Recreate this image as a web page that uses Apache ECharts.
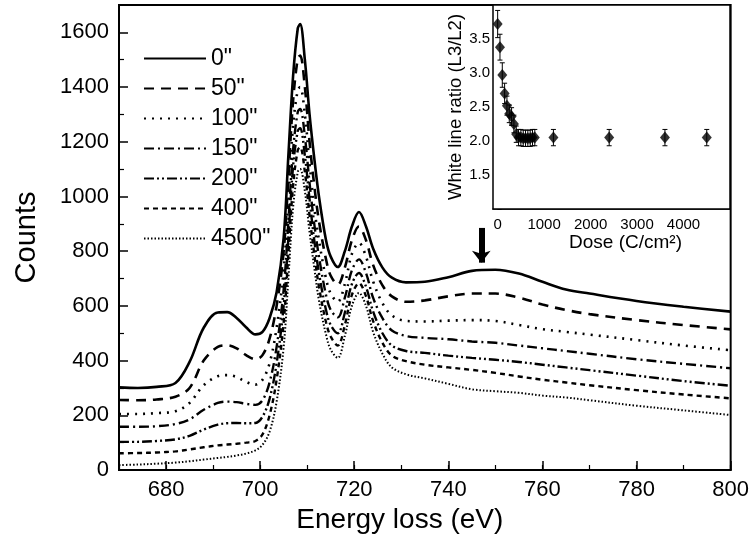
<!DOCTYPE html>
<html><head><meta charset="utf-8">
<script src="https://cdn.jsdelivr.net/npm/echarts@6/dist/echarts.min.js"></script>
<style>html,body{margin:0;padding:0;background:#fff}#c{width:752px;height:545px}</style>
</head><body><div id="c"></div>
<script>
// ---- main spectra data ----
const energy = [670,674,678,682,685,688,691,693,695,697,699,700.5,702,703.5,705,706,707,708,708.5,709.5,710.5,711.5,712.5,714,715,716.5,718,719.5,721,722.5,724,726,728,731,735,740,745,750,755,760,765,770,780,790,800];
const counts0    = [302,300,304,318,395,520,576,577,556,522,496,505,555,650,850,1150,1440,1615,1630,1500,1300,1140,1000,840,780,742,800,890,943,890,810,740,703,686,688,705,728,732,718,688,660,645,618,597,579];
const counts50   = [256,255,258,268,300,400,450,456,445,420,405,420,480,600,800,1070,1350,1505,1515,1400,1200,1040,910,770,710,678,740,840,890,840,750,675,635,615,620,635,645,645,630,605,585,570,548,530,514];
const counts100  = [205,205,208,215,245,310,343,347,340,322,312,330,390,520,730,990,1260,1390,1400,1300,1120,960,840,700,645,615,680,790,830,780,690,610,565,545,543,546,548,545,530,515,505,495,475,455,438];
const counts150  = [158,158,160,168,185,220,245,250,248,242,238,255,320,450,660,910,1170,1310,1320,1220,1050,900,780,640,585,558,630,730,770,720,630,555,510,490,483,478,470,465,455,445,435,425,405,388,372];
const counts200  = [103,103,106,112,125,148,166,171,172,171,172,195,260,390,600,850,1110,1240,1250,1150,990,840,720,585,530,500,575,680,720,670,580,500,455,435,428,418,410,403,395,385,375,365,345,325,308];
const counts400  = [61,62,64,68,75,83,90,93,96,100,106,130,200,330,540,790,1040,1170,1180,1090,930,790,670,540,488,455,530,640,683,635,545,465,418,398,385,375,366,355,342,330,320,310,292,276,262];
const counts4500 = [18,20,23,27,32,38,44,48,53,60,72,92,140,250,450,700,960,1090,1100,1020,870,740,620,495,440,410,490,600,647,600,505,425,375,350,335,315,295,288,282,272,265,255,235,218,201];
const seriesNames = ['0"','50"','100"','150"','200"','400"','4500"'];
const xTickLabels = [680,700,720,740,760,780,800];
const yTickLabels = [0,200,400,600,800,1000,1200,1400,1600];
const arrowX = 747, arrowFrom = 885, arrowTo = 758;

// ---- inset data ----
const dose  = [0,50,100,150,200,250,300,350,400,450,500,550,600,650,700,750,800,1200,2400,3600,4500];
const ratio = [3.72,3.38,2.97,2.70,2.52,2.40,2.36,2.25,2.10,2.05,2.05,2.04,2.04,2.04,2.04,2.05,2.05,2.05,2.05,2.05,2.05];
const ratioErr = [0.20,0.19,0.18,0.15,0.14,0.13,0.13,0.13,0.12,0.12,0.12,0.12,0.12,0.12,0.12,0.12,0.12,0.12,0.12,0.12,0.12];
const doseTickLabels = [0,1000,2000,3000,4000];

const allCounts = [counts0,counts50,counts100,counts150,counts200,counts400,counts4500];
const dashes = ['solid',[10,7],[2,6],[10,4,2,4],[10,3,2,3,2,3],[5,4],[1.5,2]];
const widths = [2.6,2.6,2.6,2.4,2.4,2.4,2];
const FONT = 'Liberation Sans, Arial, sans-serif';

const chart = echarts.init(document.getElementById('c'), null, {renderer:'canvas'});
const series = allCounts.map((arr,i)=>({
  name: seriesNames[i], type:'line', xAxisIndex:0, yAxisIndex:0,
  data: energy.map((e,j)=>[e,arr[j]]),
  showSymbol:false, symbol:'none', smooth:0.35,
  lineStyle:{color:'#000', width:widths[i], type:dashes[i]},
  itemStyle:{color:'#000'},
  z: 10-i
}));
series[0].markLine = {
  silent:true, symbol:['none','arrow'], symbolSize:[14,12],
  label:{show:false},
  lineStyle:{color:'#000', width:6, type:'solid'},
  data:[[{coord:[arrowX,arrowFrom]},{coord:[arrowX,arrowTo]}]]
};
series.push({
  type:'custom', xAxisIndex:2, yAxisIndex:1, z:20,
  data: dose.map((d,i)=>[d, ratio[i]-ratioErr[i], ratio[i]+ratioErr[i]]),
  renderItem:(params, api)=>{
    const x=api.value(0), lo=api.value(1), hi=api.value(2);
    const p1=api.coord([x,lo]), p2=api.coord([x,hi]);
    const s={stroke:'#000', lineWidth:1};
    return {type:'group', children:[
      {type:'line', shape:{x1:p1[0],y1:p1[1],x2:p2[0],y2:p2[1]}, style:s},
      {type:'line', shape:{x1:p1[0]-2.5,y1:p1[1],x2:p1[0]+2.5,y2:p1[1]}, style:s},
      {type:'line', shape:{x1:p2[0]-2.5,y1:p2[1],x2:p2[0]+2.5,y2:p2[1]}, style:s}
    ]};
  }
});
series.push({
  type:'scatter', xAxisIndex:2, yAxisIndex:1, z:21,
  data: dose.map((d,i)=>[d,ratio[i]]),
  symbol:'diamond', symbolSize:[10,12], itemStyle:{color:'#000'}
});

chart.setOption({
  animation:false,
  backgroundColor:'#fff',
  legend:{
    data:seriesNames, orient:'vertical', left:143, top:47, padding:0,
    itemWidth:62, itemHeight:14, itemGap:7,
    itemStyle:{opacity:0},
    textStyle:{fontFamily:FONT, fontSize:23, color:'#000'},
    inactiveColor:'#000'
  },
  grid:[
    {left:119, right:21, top:5, bottom:75, show:true, borderColor:'#000', borderWidth:2, backgroundColor:'transparent'},
    {left:493, right:22, top:5, bottom:336, show:true, borderColor:'#000', borderWidth:1.5, backgroundColor:'#fff', z:5}
  ],
  xAxis:[
    {type:'value', gridIndex:0, min:670, max:800, position:'bottom',
     axisLine:{lineStyle:{color:'#000', width:2}},
     axisTick:{inside:true, length:9, customValues:xTickLabels, lineStyle:{color:'#000', width:1.5}},
     axisLabel:{customValues:xTickLabels, fontFamily:FONT, fontSize:22, color:'#000', margin:9,
       formatter:(v)=>String(v)},
     splitLine:{show:false},
     name:'Energy loss (eV)', nameLocation:'middle', nameGap:33,
     nameTextStyle:{fontFamily:FONT, fontSize:28, color:'#000', padding:[0,50,0,0]}},
    {type:'value', gridIndex:0, min:670, max:800, interval:10, position:'bottom',
     axisLine:{show:false},
     axisTick:{inside:true, length:5, lineStyle:{color:'#000', width:1.2}},
     axisLabel:{show:false}, splitLine:{show:false}},
    {type:'value', gridIndex:1, min:-100, max:5000, position:'bottom',
     axisLine:{lineStyle:{color:'#000', width:1.5}},
     axisTick:{inside:true, length:4, customValues:doseTickLabels, lineStyle:{color:'#000'}},
     axisLabel:{customValues:doseTickLabels, fontFamily:FONT, fontSize:15, color:'#000', margin:8,
       formatter:(v)=>String(v)},
     splitLine:{show:false},
     name:'Dose (C/cm\u00B2)', nameLocation:'middle', nameGap:24,
     nameTextStyle:{fontFamily:FONT, fontSize:19, color:'#000', padding:[0,0,0,28]}}
  ],
  yAxis:[
    {type:'value', gridIndex:0, min:0, max:1700, interval:200,
     axisLine:{lineStyle:{color:'#000', width:2}},
     axisTick:{inside:true, length:9, lineStyle:{color:'#000', width:1.5}},
     minorTick:{show:true, splitNumber:2, length:5, lineStyle:{color:'#000', width:1.2}},
     axisLabel:{fontFamily:FONT, fontSize:22, color:'#000', margin:10, showMaxLabel:false,
       formatter:(v)=>String(v)},
     splitLine:{show:false}, minorSplitLine:{show:false},
     name:'Counts', nameLocation:'middle', nameGap:78,
     nameTextStyle:{fontFamily:FONT, fontSize:29, color:'#000', padding:[0,0,0,0]}},
    {type:'value', gridIndex:1, min:1, max:4, interval:0.5,
     axisLine:{lineStyle:{color:'#000', width:1.5}},
     axisTick:{inside:true, length:4, lineStyle:{color:'#000'}},
     minorTick:{show:true, splitNumber:2, length:2.5, lineStyle:{color:'#000'}},
     axisLabel:{fontFamily:FONT, fontSize:15, color:'#000', margin:3,
       formatter:(v)=> (v<=1||v>=4)? '' : v.toFixed(1)},
     splitLine:{show:false},
     name:'White line ratio (L3/L2)', nameLocation:'middle', nameGap:26,
     nameTextStyle:{fontFamily:FONT, fontSize:18.5, color:'#000'}}
  ],
  series:series
});
</script></body></html>
